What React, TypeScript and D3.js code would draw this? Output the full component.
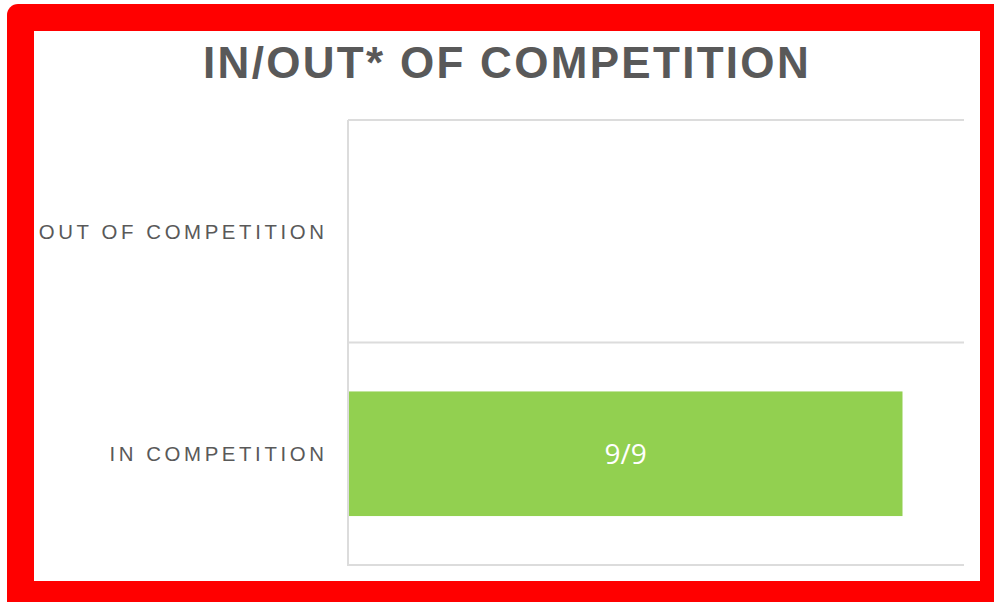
import * as d3 from 'd3';

const categories = ['OUT OF COMPETITION', 'IN COMPETITION'];
const values = [0, 9];
const valueLabels = ['', '9/9'];
const xMax = 10;

const PLOT = { left: 349, right: 964, top: 120, bottom: 565 };

export default function App() {
  const x = d3.scaleLinear().domain([0, xMax]).range([PLOT.left, PLOT.right]);
  const y = d3.scaleBand().domain(categories).range([PLOT.top, PLOT.bottom]);
  const barH = y.bandwidth() * 0.56;
  const gridYs = [PLOT.top, ...categories.map(c => (y(c) as number) + y.bandwidth())];

  return (
    <svg width={994} height={602} style={{ position: 'absolute', left: 0, top: 0 }}>
      <rect x={7} y={4} width={1030} height={640} rx={11} fill="#ff0000" />
      <rect x={34} y={31} width={946} height={550} fill="#ffffff" />

      <text x={507} y={78} textAnchor="middle" fontFamily="'Liberation Sans', Arial, sans-serif"
        fontWeight="bold" fontSize={44} letterSpacing={2.3} fill="#595959">
        IN/OUT* OF COMPETITION
      </text>

      {gridYs.map((gy, i) => (
        <line key={i} x1={PLOT.left - 1} x2={PLOT.right} y1={gy} y2={gy} stroke="#dcdcdc" strokeWidth={2} />
      ))}
      <line x1={PLOT.left - 1} x2={PLOT.left - 1} y1={PLOT.top} y2={PLOT.bottom + 1} stroke="#dcdcdc" strokeWidth={2} />

      {categories.map((c, i) => {
        const cy = (y(c) as number) + y.bandwidth() / 2;
        return (
          <g key={c}>
            <text x={327.5} y={cy} dy="0.36em" textAnchor="end" fontFamily="'Liberation Sans', Arial, sans-serif"
              fontSize={20.4} letterSpacing={3.6} fill="#595959">{c}</text>
            {values[i] > 0 && (
              <>
                <rect x={x(0)} y={cy - barH / 2} width={x(values[i]) - x(0)} height={barH} fill="#92d050" />
                <text x={(x(0) + x(values[i])) / 2} y={cy} dy="0.36em" textAnchor="middle"
                  fontFamily="'Open Sans', sans-serif" fontSize={28} fill="#ffffff">{valueLabels[i]}</text>
              </>
            )}
          </g>
        );
      })}
    </svg>
  );
}
